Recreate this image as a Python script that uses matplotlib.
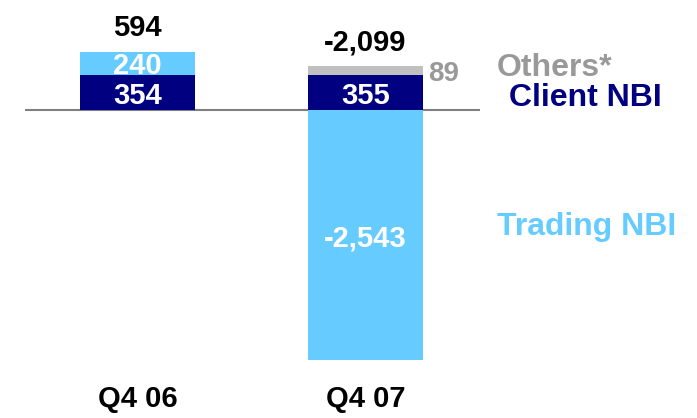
import matplotlib.pyplot as plt

# Dati del grafico (NBI trimestrale)
trimestri = ["Q4 06", "Q4 07"]
client_nbi = [354, 355]
trading_nbi = [240, -2543]
others_nbi = [0, 89]
totali = ["594", "-2,099"]

blu_chiaro = "#66CCFF"
blu_scuro = "#000080"
grigio_barra = "#C0C0C0"
grigio_testo = "#999999"

plt.rcParams["font.family"] = ["Liberation Sans", "DejaVu Sans"]
plt.rcParams["font.weight"] = "bold"

fig = plt.figure(figsize=(6.97, 4.18), dpi=100)
ax = fig.add_axes([0, 0, 1, 1])
ax.set_xlim(-0.603, 2.454)
ax.set_ylim(-3127, 1117)
ax.axis("off")

x = list(range(len(trimestri)))
larghezza = 0.505

# Linea di base
ax.hlines(0, -0.495, 1.502, color="#808080", linewidth=1.5, zorder=1)

for i in x:
    # Client NBI sempre sopra lo zero
    ax.bar(i, client_nbi[i], larghezza, color=blu_scuro, zorder=2)
    ax.text(i, client_nbi[i] / 2, str(client_nbi[i]), color="white",
            fontsize=21, ha="center", va="center_baseline", zorder=3)
    cima = client_nbi[i]
    # Trading NBI: impilato sopra se positivo, sotto lo zero se negativo
    if trading_nbi[i] >= 0:
        ax.bar(i, trading_nbi[i], larghezza, bottom=cima, color=blu_chiaro, zorder=2)
        ax.text(i, cima + trading_nbi[i] / 2, str(trading_nbi[i]), color="white",
                fontsize=21, ha="center", va="center_baseline", zorder=3)
        cima += trading_nbi[i]
    else:
        ax.bar(i, trading_nbi[i], larghezza, color=blu_chiaro, zorder=2)
        ax.text(i, trading_nbi[i] / 2, f"{trading_nbi[i]:,}", color="white",
                fontsize=21, ha="center", va="center_baseline", zorder=3)
    # Others
    if others_nbi[i] > 0:
        ax.bar(i, others_nbi[i], larghezza, bottom=cima, color=grigio_barra, zorder=2)
        ax.annotate(str(others_nbi[i]), (i + larghezza / 2, cima + others_nbi[i] / 2),
                    xytext=(4, 0), textcoords="offset points", color=grigio_testo,
                    fontsize=20, ha="left", va="center_baseline")
        cima += others_nbi[i]
    # Totale sopra la barra
    ax.annotate(totali[i], (i, cima), xytext=(0, 19), textcoords="offset points",
                color="black", fontsize=21, ha="center", va="center_baseline")
    # Etichetta trimestre
    ax.text(i, 0.012, trimestri[i], transform=ax.get_xaxis_transform(),
            color="black", fontsize=21, ha="center", va="bottom")

# Legenda a destra
ax.text(1.577, 345, "Others*", color=grigio_testo, fontsize=23, ha="left", va="baseline")
ax.text(1.629, 41, "Client NBI", color=blu_scuro, fontsize=23, ha="left", va="baseline")
ax.text(1.577, trading_nbi[1] / 2, "Trading NBI", color=blu_chiaro, fontsize=23,
        ha="left", va="baseline")

fig.savefig("out.png", dpi=100)
